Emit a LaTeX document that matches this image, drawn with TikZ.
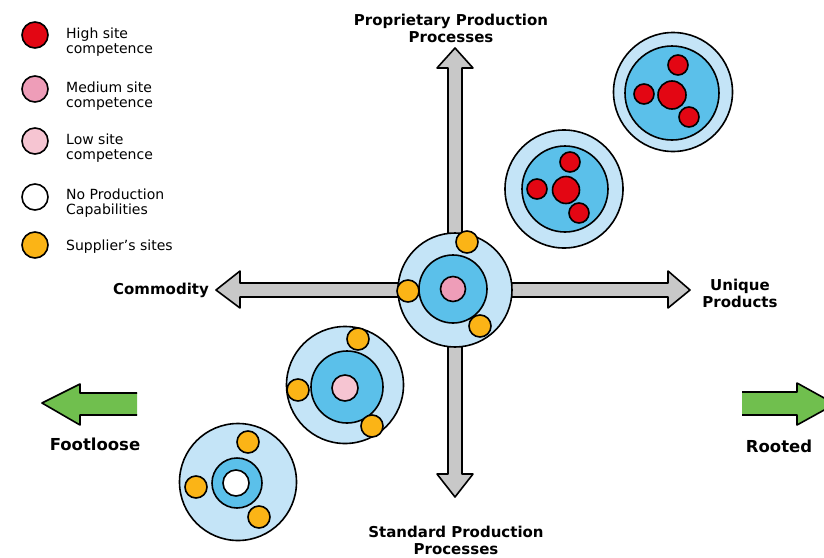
\documentclass[tikz,border=0pt]{standalone}
\usepackage{fontspec}
\setmainfont{DejaVu Sans}
\definecolor{hired}{HTML}{E30613}
\definecolor{medpink}{HTML}{EE9DB8}
\definecolor{lowpink}{HTML}{F6C5D2}
\definecolor{suporange}{HTML}{FBB416}
\definecolor{outerblue}{HTML}{C4E4F7}
\definecolor{midblue}{HTML}{5BC0EA}
\definecolor{axisgray}{HTML}{C8C8C8}
\definecolor{arrowgreen}{HTML}{70BF4E}
\begin{document}
\begin{tikzpicture}[x=1pt,y=-1pt,
  ring/.style={circle,draw=black,line width=1.6pt,inner sep=0pt,minimum size=#1},
  axisarrow/.style={fill=axisgray,draw=black,line width=1.6pt,line join=round},
  greenarrow/.style={fill=arrowgreen,draw=black,line width=1.6pt,line join=round},
  legtext/.style={anchor=west,align=left,inner sep=0pt,font=\fontsize{14}{15.5}\selectfont},
  axlabel/.style={align=center,inner sep=0pt,font=\fontsize{15}{17}\selectfont\bfseries},
  sidelabel/.style={inner sep=0pt,font=\fontsize{16.5}{18}\selectfont\bfseries}]
\useasboundingbox (0,0) rectangle (824,557);

% axes
\draw[axisarrow] (448,290) -- (448,68) -- (437,68) -- (455,48) -- (473,68) -- (462,68) -- (462,290) -- cycle;
\draw[axisarrow] (448,290) -- (448,474) -- (437,474) -- (455,497) -- (473,474) -- (462,474) -- (462,290) -- cycle;
\draw[axisarrow] (455,283) -- (240,283) -- (240,271) -- (216,290) -- (240,308) -- (240,297) -- (455,297) -- cycle;
\draw[axisarrow] (455,283) -- (668,283) -- (668,271) -- (690,290) -- (668,308) -- (668,297) -- (455,297) -- cycle;

% axis labels
\node[axlabel] (prop) at (451,28) {Proprietary Production\\Processes};
\node[axlabel] (std) at (456,540) {Standard Production\\Processes};
\node[axlabel] (comm) at (161,290) {Commodity};
\node[axlabel] (uniq) at (740,293) {Unique\\Products};

% green arrows
\fill[arrowgreen] (137,393) -- (80,393) -- (80,384) -- (42,403) -- (80,425) -- (80,415) -- (137,415) -- cycle;
\draw[greenarrow,fill=none] (137,393) -- (80,393) -- (80,384) -- (42,403) -- (80,425) -- (80,415) -- (137,415);
\begin{scope}
\clip (0,0) rectangle (824,557);
\fill[arrowgreen] (742,392) -- (797,392) -- (797,383) -- (835,404) -- (797,425) -- (797,415) -- (742,415) -- cycle;
\draw[greenarrow,fill=none] (742,392) -- (797,392) -- (797,383) -- (835,404) -- (797,425) -- (797,415) -- (742,415);
\end{scope}
\node[sidelabel] (foot) at (95,444) {Footloose};
\node[sidelabel] (root) at (779,446) {Rooted};

% centre cluster
\node[ring=114pt,fill=outerblue] (c1o) at (455,290) {};
\node[ring=68pt,fill=midblue] (c1m) at (453,289) {};
\node[ring=25pt,fill=medpink] (c1c) at (453,289) {};
\node[ring=22pt,fill=suporange] (c1s1) at (467,242) {};
\node[ring=22pt,fill=suporange] (c1s2) at (408,291) {};
\node[ring=22pt,fill=suporange] (c1s3) at (480,326) {};

% second cluster
\node[ring=117pt,fill=outerblue] (c2o) at (345,385) {};
\node[ring=72pt,fill=midblue] (c2m) at (347,387) {};
\node[ring=26pt,fill=lowpink] (c2c) at (345,388) {};
\node[ring=22pt,fill=suporange] (c2s1) at (358,339) {};
\node[ring=22pt,fill=suporange] (c2s2) at (298,390) {};
\node[ring=22pt,fill=suporange] (c2s3) at (372,426) {};

% third cluster
\node[ring=117pt,fill=outerblue] (c3o) at (238,482) {};
\node[ring=50pt,fill=midblue] (c3m) at (237,483) {};
\node[ring=26pt,fill=white] (c3c) at (236,483) {};
\node[ring=22pt,fill=suporange] (c3s1) at (248,442) {};
\node[ring=22pt,fill=suporange] (c3s2) at (196,487) {};
\node[ring=22pt,fill=suporange] (c3s3) at (259,517) {};

% upper-right clusters
\node[ring=118pt,fill=outerblue] (c4o) at (564,189) {};
\node[ring=86pt,fill=midblue] (c4m) at (565,189) {};
\node[ring=27pt,fill=hired] (c4c) at (566,190) {};
\node[ring=20pt,fill=hired] (c4s1) at (570,162) {};
\node[ring=20pt,fill=hired] (c4s2) at (537,189) {};
\node[ring=20pt,fill=hired] (c4s3) at (579,213) {};

\node[ring=119pt,fill=outerblue] (c5o) at (673,92) {};
\node[ring=94pt,fill=midblue] (c5m) at (672,93) {};
\node[ring=28pt,fill=hired] (c5c) at (672,95) {};
\node[ring=20pt,fill=hired] (c5s1) at (678,65) {};
\node[ring=20pt,fill=hired] (c5s2) at (644,94) {};
\node[ring=20pt,fill=hired] (c5s3) at (689,117) {};

% legend
\node[ring=26pt,fill=hired] (l1) at (35,35) {};
\node[ring=26pt,fill=medpink] (l2) at (35,89) {};
\node[ring=26pt,fill=lowpink] (l3) at (35,141) {};
\node[ring=26pt,fill=white] (l4) at (35,197) {};
\node[ring=26pt,fill=suporange] (l5) at (35,245) {};
\node[legtext] (t1) at (66,42) {High site\\competence};
\node[legtext] (t2) at (66,96) {Medium site\\competence};
\node[legtext] (t3) at (66,148) {Low site\\competence};
\node[legtext] (t4) at (66,203) {No Production\\Capabilities};
\node[legtext] (t5) at (66,247) {Supplier’s sites};
\end{tikzpicture}
\end{document}
